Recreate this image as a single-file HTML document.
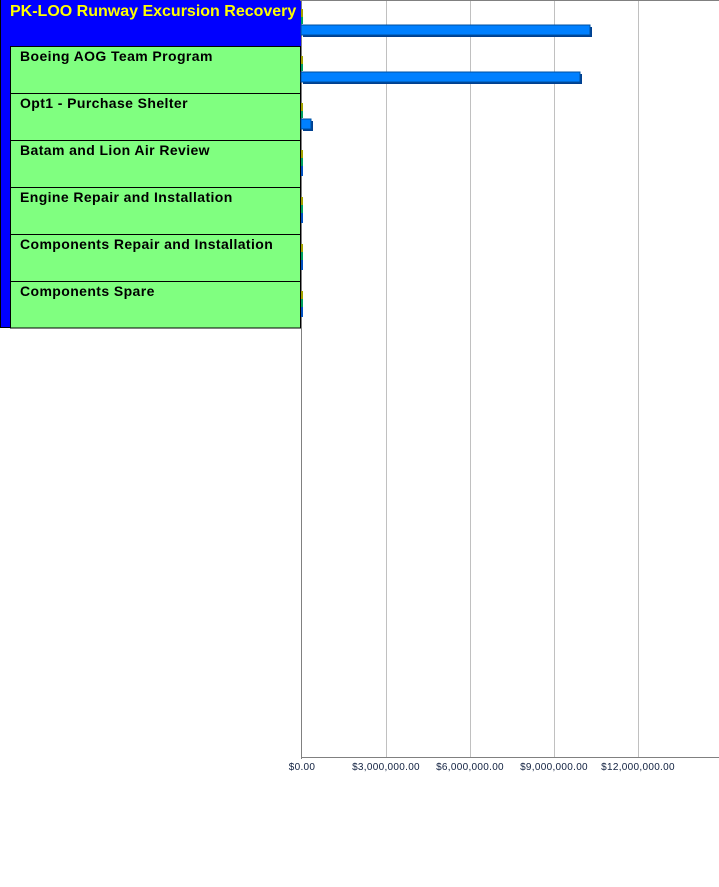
<!DOCTYPE html>
<html><head><meta charset="utf-8"><style>
html,body{margin:0;padding:0;background:#fff;width:719px;height:887px;overflow:hidden}
</style></head><body>
<svg width="719" height="887" xmlns="http://www.w3.org/2000/svg" style="position:absolute;left:0;top:0;font-family:'Liberation Sans',Arial,sans-serif">
<rect x="0" y="0" width="301" height="328" fill="#0000ff"/>
<line x1="0.5" y1="0" x2="0.5" y2="328" stroke="#000"/>
<line x1="0" y1="327.5" x2="300" y2="327.5" stroke="#000"/>
<text x="10" y="16" fill="#ffff00" font-weight="bold" font-size="16">PK-LOO Runway Excursion Recovery</text>
<g stroke="#000" stroke-width="1" fill="#80ff80">
<rect x="10.5" y="46.5" width="290" height="47"/>
<rect x="10.5" y="93.5" width="290" height="47"/>
<rect x="10.5" y="140.5" width="290" height="47"/>
<rect x="10.5" y="187.5" width="290" height="47"/>
<rect x="10.5" y="234.5" width="290" height="47"/>
<rect x="10.5" y="281.5" width="290" height="46.5"/>
</g>
<g font-weight="bold" font-size="14" fill="#000" letter-spacing="0.4">
<text x="20" y="61">Boeing AOG Team Program</text>
<text x="20" y="108">Opt1 - Purchase Shelter</text>
<text x="20" y="155">Batam and Lion Air Review</text>
<text x="20" y="202">Engine Repair and Installation</text>
<text x="20" y="249">Components Repair and Installation</text>
<text x="20" y="296">Components Spare</text>
</g>
<line x1="300" y1="0.5" x2="719" y2="0.5" stroke="#808080"/>
<g stroke="#c0c0c0" stroke-width="1">
<line x1="386.5" y1="1" x2="386.5" y2="757"/>
<line x1="470.5" y1="1" x2="470.5" y2="757"/>
<line x1="554.5" y1="1" x2="554.5" y2="757"/>
<line x1="638.5" y1="1" x2="638.5" y2="757"/>
</g>
<line x1="301.5" y1="0" x2="301.5" y2="759" stroke="#808080"/>
<line x1="301" y1="757.5" x2="719" y2="757.5" stroke="#808080"/>
<g>
<rect x="301" y="9" width="2" height="8" fill="#a0a000"/><rect x="301" y="17" width="2" height="7" fill="#00a060"/>
<rect x="303" y="27" width="289" height="10" fill="#004090"/>
<rect x="301" y="25" width="289" height="10" fill="#0080ff" stroke="#0050a0" stroke-width="1"/>
<rect x="301" y="56" width="2" height="8" fill="#a0a000"/><rect x="301" y="64" width="2" height="7" fill="#00a060"/>
<rect x="303" y="74" width="279" height="10" fill="#004090"/>
<rect x="301" y="72" width="279" height="10" fill="#0080ff" stroke="#0050a0" stroke-width="1"/>
<rect x="301" y="103" width="2" height="8" fill="#a0a000"/><rect x="301" y="111" width="2" height="7" fill="#00a060"/>
<rect x="303" y="121" width="10" height="10" fill="#004090"/>
<rect x="301" y="119" width="10" height="10" fill="#0080ff" stroke="#0050a0" stroke-width="1"/>
<rect x="301" y="150" width="2" height="8" fill="#a0a000"/><rect x="301" y="158" width="2" height="8" fill="#00a060"/><rect x="301" y="166" width="2" height="10" fill="#0050c0"/>
<rect x="301" y="197" width="2" height="8" fill="#a0a000"/><rect x="301" y="205" width="2" height="8" fill="#00a060"/><rect x="301" y="213" width="2" height="10" fill="#0050c0"/>
<rect x="301" y="244" width="2" height="8" fill="#a0a000"/><rect x="301" y="252" width="2" height="8" fill="#00a060"/><rect x="301" y="260" width="2" height="10" fill="#0050c0"/>
<rect x="301" y="291" width="2" height="8" fill="#a0a000"/><rect x="301" y="299" width="2" height="8" fill="#00a060"/><rect x="301" y="307" width="2" height="10" fill="#0050c0"/>
</g>
<g font-size="10" fill="#102040" text-anchor="middle" letter-spacing="0.3">
<text x="302" y="770">$0.00</text>
<text x="386" y="770">$3,000,000.00</text>
<text x="470" y="770">$6,000,000.00</text>
<text x="554" y="770">$9,000,000.00</text>
<text x="638" y="770">$12,000,000.00</text>
</g>
</svg>
</body></html>
